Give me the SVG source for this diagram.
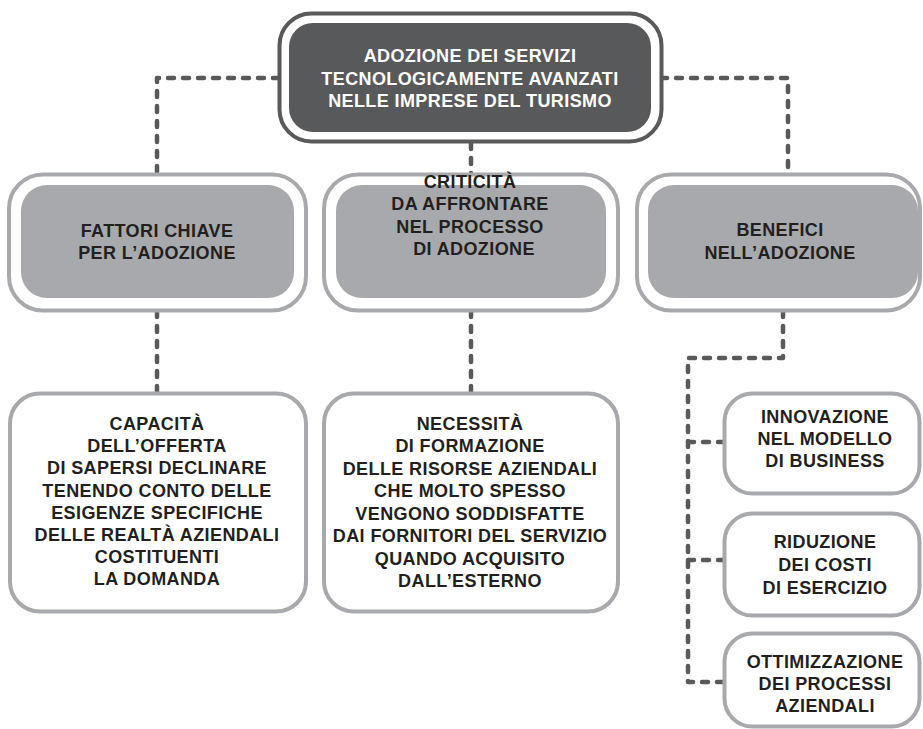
<svg xmlns="http://www.w3.org/2000/svg" width="923" height="729" viewBox="0 0 923 729">
  <style>
    .t { font-family: "Liberation Sans", Arial, sans-serif; font-weight: bold; font-size: 18px; letter-spacing: 0.4px; text-anchor: middle; fill: #231f20; }
    .tw { fill: #ffffff; }
    .frameDark { fill: #ffffff; stroke: #58595b; stroke-width: 4; }
    .coreDark { fill: #58595b; }
    .frameGray { fill: #ffffff; stroke: #a7a9ac; stroke-width: 4; }
    .coreGray { fill: #a7a9ac; }
    .leaf { fill: #ffffff; stroke: #a7a9ac; stroke-width: 4; }
    .link { fill: none; stroke: #58595b; stroke-width: 4.5; stroke-dasharray: 6 9; stroke-linecap: round; stroke-linejoin: round; }
  </style>
  <rect width="923" height="729" fill="#ffffff"/>

  <!-- dashed connectors -->
  <g id="connectors">
    <path class="link" d="M279 78 H157 V174"/>
    <path class="link" d="M661 78 H788 V174"/>
    <path class="link" d="M471 143 V174"/>
    <path class="link" d="M157 311 V392"/>
    <path class="link" d="M471 311 V392"/>
    <path class="link" d="M783 311 V358 H688 V682 H724"/>
    <path class="link" d="M688 442 H724"/>
    <path class="link" d="M688 560 H724"/>
  </g>

  <!-- root -->
  <g id="root">
    <rect class="frameDark" x="279.5" y="13.5" width="382" height="128" rx="32"/>
    <rect class="coreDark" x="289" y="23" width="362" height="109" rx="24"/>
    <text class="t tw" x="470" y="62">ADOZIONE DEI SERVIZI</text>
    <text class="t tw" x="470" y="85">TECNOLOGICAMENTE AVANZATI</text>
    <text class="t tw" x="470" y="107">NELLE IMPRESE DEL TURISMO</text>
  </g>

  <!-- second level -->
  <g id="fattori">
    <rect class="frameGray" x="9" y="174.5" width="297" height="136" rx="34"/>
    <rect class="coreGray" x="21" y="185" width="273" height="113" rx="26"/>
    <text class="t" x="157" y="237">FATTORI CHIAVE</text>
    <text class="t" x="157" y="259">PER L’ADOZIONE</text>
  </g>
  <g id="criticita">
    <rect class="frameGray" x="324" y="174.5" width="294" height="136" rx="34"/>
    <rect class="coreGray" x="336" y="185" width="270" height="113" rx="26"/>
    <text class="t" x="470" y="188">CRITICITÀ</text>
    <text class="t" x="470" y="210">DA AFFRONTARE</text>
    <text class="t" x="470" y="233">NEL PROCESSO</text>
    <text class="t" x="474" y="255">DI ADOZIONE</text>
  </g>
  <g id="benefici">
    <rect class="frameGray" x="637" y="174.5" width="283" height="136" rx="34"/>
    <rect class="coreGray" x="648" y="185" width="270" height="113" rx="26"/>
    <text class="t" x="780" y="236">BENEFICI</text>
    <text class="t" x="780" y="259">NELL’ADOZIONE</text>
  </g>

  <!-- third level -->
  <g id="capacita">
    <rect class="leaf" x="10" y="393.5" width="296" height="218" rx="30"/>
    <text class="t" x="157" y="430">CAPACITÀ</text>
    <text class="t" x="157" y="452">DELL’OFFERTA</text>
    <text class="t" x="157" y="474">DI SAPERSI DECLINARE</text>
    <text class="t" x="157" y="497">TENENDO CONTO DELLE</text>
    <text class="t" x="157" y="519">ESIGENZE SPECIFICHE</text>
    <text class="t" x="157" y="541">DELLE REALTÀ AZIENDALI</text>
    <text class="t" x="157" y="563">COSTITUENTI</text>
    <text class="t" x="157" y="585">LA DOMANDA</text>
  </g>
  <g id="necessita">
    <rect class="leaf" x="324" y="393.5" width="294" height="218" rx="30"/>
    <text class="t" x="470" y="430">NECESSITÀ</text>
    <text class="t" x="470" y="452">DI FORMAZIONE</text>
    <text class="t" x="470" y="475">DELLE RISORSE AZIENDALI</text>
    <text class="t" x="470" y="497">CHE MOLTO SPESSO</text>
    <text class="t" x="470" y="520">VENGONO SODDISFATTE</text>
    <text class="t" x="470" y="542">DAI FORNITORI DEL SERVIZIO</text>
    <text class="t" x="470" y="565">QUANDO ACQUISITO</text>
    <text class="t" x="470" y="587">DALL’ESTERNO</text>
  </g>
  <g id="innovazione">
    <rect class="leaf" x="724.5" y="393.5" width="195" height="100" rx="28"/>
    <text class="t" x="825" y="423">INNOVAZIONE</text>
    <text class="t" x="825" y="445">NEL MODELLO</text>
    <text class="t" x="825" y="467">DI BUSINESS</text>
  </g>
  <g id="riduzione">
    <rect class="leaf" x="724.5" y="513.5" width="195" height="102" rx="28"/>
    <text class="t" x="825" y="548">RIDUZIONE</text>
    <text class="t" x="825" y="571">DEI COSTI</text>
    <text class="t" x="825" y="594">DI ESERCIZIO</text>
  </g>
  <g id="ottimizzazione">
    <rect class="leaf" x="724.5" y="633.5" width="195" height="93" rx="28"/>
    <text class="t" x="825" y="668">OTTIMIZZAZIONE</text>
    <text class="t" x="825" y="690">DEI PROCESSI</text>
    <text class="t" x="825" y="712">AZIENDALI</text>
  </g>
</svg>
